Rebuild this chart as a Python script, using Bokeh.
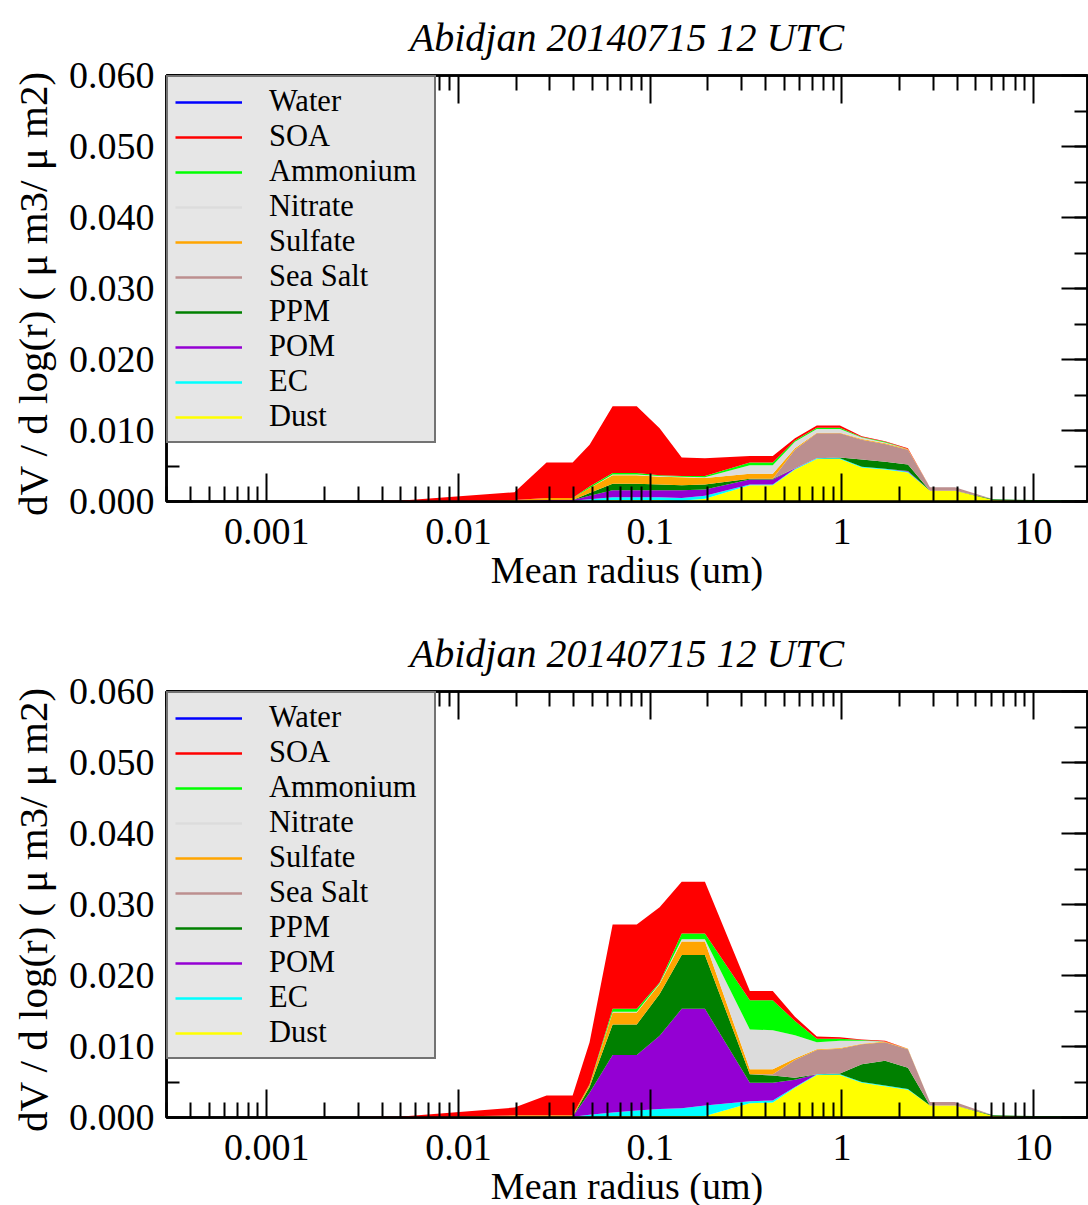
from bokeh.plotting import figure
from bokeh.layouts import column
from bokeh.models import (ColumnDataSource, Range1d, FixedTicker, SingleIntervalTicker,
                          NumeralTickFormatter, CustomJSTickFormatter, LinearAxis, LogAxis,
                          Legend, LegendItem)
from bokeh.embed import file_html
from bokeh.resources import INLINE

TITLE = "Abidjan 20140715 12 UTC"
X_LABEL = "Mean radius (um)"
Y_LABEL = "dV / d log(r) ( μ m3/  μ m2)"

# legend order (top of stack first)
species = ["Water", "SOA", "Ammonium", "Nitrate", "Sulfate", "Sea Salt", "PPM", "POM", "EC", "Dust"]
keys = ["water", "soa", "ammonium", "nitrate", "sulfate", "seasalt", "ppm", "pom", "ec", "dust"]
colors = ["#0000ff", "#ff0000", "#00ff00", "#dcdcdc", "#ffa500", "#bc8f8f", "#008000", "#9400d3", "#00ffff", "#ffff00"]

radius = [0.0003, 0.0049, 0.0196, 0.0288, 0.0394, 0.0483, 0.0637, 0.0851, 0.112, 0.146, 0.193,
          0.331, 0.436, 0.569, 0.740, 0.977, 1.27, 1.68, 2.21, 2.88, 3.89, 6.15, 20.0]

# ---- panel 1 ----
p1_water = [0, 0, 0, 0, 0, 0, 0, 0, 0, 0, 0, 0, 0, 0, 0, 0, 0, 0, 0, 0, 0, 0, 0]
p1_soa = [0, 0.0001, 0.0011, 0.0050, 0.0050, 0.0059, 0.0094, 0.0094, 0.0066, 0.0026, 0.0025,
          0.0009, 0.0009, 0.0003, 0.0003, 0.0003, 0.0001, 0.0001, 0.0001, 0, 0, 0, 0]
p1_ammonium = [0, 0, 0, 0, 0, 0.0002, 0.0002, 0.0002, 0.0001, 0.0001, 0.0002,
               0.0004, 0.0004, 0.0002, 0.0002, 0.0002, 0.0001, 0.0001, 0, 0, 0, 0, 0]
p1_nitrate = [0, 0, 0, 0, 0, 0, 0.0001, 0.0001, 0.0001, 0.0001, 0.0001,
              0.0012, 0.0012, 0.0009, 0.0005, 0.0005, 0.0002, 0.0001, 0, 0, 0, 0, 0]
p1_sulfate = [0, 0, 0.0001, 0.0003, 0.0003, 0.0007, 0.0012, 0.0012, 0.0011, 0.0011, 0.0009,
              0.0007, 0.0007, 0.0002, 0.0001, 0.0001, 0.0001, 0.0001, 0.0001, 0, 0, 0, 0]
p1_seasalt = [0, 0, 0, 0, 0, 0, 0, 0, 0, 0, 0,
              0, 0, 0.0026, 0.0035, 0.0034, 0.0028, 0.0025, 0.0021, 0.0005, 0.0005, 0, 0]
p1_ppm = [0, 0, 0, 0, 0, 0.0004, 0.0009, 0.0009, 0.0008, 0.0007, 0.0007,
          0.0001, 0.0001, 0, 0, 0.0001, 0.0010, 0.0010, 0.0009, 0, 0, 0.0001, 0.0001]
p1_pom = [0, 0, 0, 0.0001, 0.0001, 0.0005, 0.0010, 0.0010, 0.0010, 0.0011, 0.0009,
          0.0007, 0.0007, 0.0001, 0, 0, 0, 0, 0.0001, 0, 0, 0, 0]
p1_ec = [0, 0, 0, 0, 0, 0.0002, 0.0004, 0.0004, 0.0004, 0.0004, 0.0004,
         0.0001, 0.0001, 0.0001, 0.0001, 0.0001, 0.0001, 0.0001, 0.0001, 0, 0, 0, 0]
p1_dust = [0, 0, 0.0001, 0.0001, 0.0001, 0.0001, 0.0002, 0.0002, 0.0002, 0.0001, 0.0004,
           0.0023, 0.0023, 0.0045, 0.0060, 0.0060, 0.0048, 0.0045, 0.0041, 0.0015, 0.0015, 0.0002, 0]

# ---- panel 2 ----
p2_water = [0, 0, 0, 0, 0, 0, 0, 0, 0, 0, 0, 0, 0, 0, 0, 0, 0, 0, 0, 0, 0, 0, 0]
p2_soa = [0, 0.0001, 0.0011, 0.0028, 0.0028, 0.0059, 0.0119, 0.0119, 0.0106, 0.0073, 0.0073,
          0.0013, 0.0013, 0.0006, 0.0003, 0.0002, 0.0001, 0.0001, 0, 0, 0, 0, 0]
p2_ammonium = [0, 0, 0, 0, 0, 0.0001, 0.0004, 0.0004, 0.0001, 0.0008, 0.0008,
               0.0041, 0.0042, 0.0020, 0.0005, 0.0003, 0.0001, 0, 0, 0, 0, 0, 0]
p2_nitrate = [0, 0, 0, 0, 0, 0, 0.0001, 0.0001, 0.0001, 0.0003, 0.0003,
              0.0056, 0.0055, 0.0033, 0.0010, 0.0010, 0.0004, 0, 0, 0, 0, 0, 0]
p2_sulfate = [0, 0, 0.0002, 0.0002, 0.0002, 0.0003, 0.0017, 0.0017, 0.0014, 0.0019, 0.0019,
              0.0007, 0.0007, 0.0002, 0.0001, 0.0001, 0.0001, 0.0001, 0.0001, 0, 0, 0, 0]
p2_seasalt = [0, 0, 0, 0, 0, 0, 0, 0, 0, 0, 0,
              0, 0.0002, 0.0025, 0.0034, 0.0035, 0.0028, 0.0026, 0.0026, 0.0005, 0.0005, 0, 0]
p2_ppm = [0, 0, 0, 0, 0, 0.0008, 0.0043, 0.0043, 0.0059, 0.0076, 0.0076,
          0.0012, 0.0010, 0.0003, 0, 0.0001, 0.0025, 0.0035, 0.0030, 0, 0, 0.0001, 0.0001]
p2_pom = [0, 0, 0, 0, 0, 0.0031, 0.0081, 0.0078, 0.0103, 0.0140, 0.0136,
          0.0026, 0.0025, 0.0010, 0, 0, 0, 0, 0, 0, 0, 0, 0]
p2_ec = [0, 0, 0, 0, 0, 0.0003, 0.0005, 0.0008, 0.0010, 0.0011, 0.0015,
         0.0003, 0.0003, 0.0001, 0.0001, 0.0001, 0.0001, 0.0001, 0.0001, 0, 0, 0, 0]
p2_dust = [0, 0, 0.0001, 0.0001, 0.0001, 0.0001, 0.0002, 0.0002, 0.0002, 0.0002, 0.0002,
           0.0020, 0.0021, 0.0042, 0.0060, 0.0060, 0.0049, 0.0044, 0.0039, 0.0017, 0.0017, 0.0002, 0]

x_major = [0.001, 0.01, 0.1, 1, 10]
x_minor = [0.0003, 0.0004, 0.0005, 0.0006, 0.0007, 0.0008, 0.0009,
           0.002, 0.003, 0.004, 0.005, 0.006, 0.007, 0.008, 0.009,
           0.02, 0.03, 0.04, 0.05, 0.06, 0.07, 0.08, 0.09,
           0.2, 0.3, 0.4, 0.5, 0.6, 0.7, 0.8, 0.9,
           2, 3, 4, 5, 6, 7, 8, 9]

FONT = "Liberation Serif"


def style_axis(ax, show_labels):
    ax.axis_line_color = "black"
    ax.axis_line_width = 2.5
    ax.major_tick_line_color = "black"
    ax.minor_tick_line_color = "black"
    ax.major_tick_line_width = 2
    ax.minor_tick_line_width = 2
    ax.major_tick_out = 0
    ax.minor_tick_out = 0
    ax.major_label_text_font = FONT
    ax.major_label_text_color = "black"
    ax.axis_label_text_font = FONT
    ax.axis_label_text_font_style = "normal"
    ax.axis_label_text_font_size = "38px"
    ax.axis_label_text_color = "black"
    if show_labels:
        ax.major_label_text_font_size = "38px"
    else:
        ax.major_label_text_font_size = "1px"
        ax.major_label_text_alpha = 0
        ax.major_label_standoff = 0


def make_panel(vals, bottom_border):
    data = dict(radius=radius)
    for k, v in zip(keys, vals):
        data[k] = v
    src = ColumnDataSource(data)

    p = figure(frame_width=921, frame_height=426, x_axis_type="log",
               x_range=Range1d(3e-4, 19.1), y_range=Range1d(0, 0.06),
               output_backend="svg", toolbar_location=None,
               min_border_left=166, min_border_right=1, min_border_top=74,
               min_border_bottom=bottom_border, title=TITLE,
               background_fill_color="white", border_fill_color="white")
    p.xgrid.visible = False
    p.ygrid.visible = False
    p.outline_line_color = "black"
    p.outline_line_width = 2.5

    p.title.text_font = FONT
    p.title.text_font_style = "italic"
    p.title.text_font_size = "40px"
    p.title.align = "center"
    p.title.vertical_align = "top"
    p.title.text_color = "black"
    p.title.standoff = 28

    stack_keys = keys[::-1]
    stack_colors = colors[::-1]
    p.varea_stack(stackers=stack_keys, x="radius", color=stack_colors, source=src)

    # bottom x axis
    xa = p.xaxis[0]
    xa.ticker = FixedTicker(ticks=x_major, minor_ticks=x_minor)
    xa.formatter = CustomJSTickFormatter(code="return tick.toString();")
    xa.axis_label = X_LABEL
    style_axis(xa, True)
    xa.major_tick_in = 28
    xa.minor_tick_in = 15
    xa.major_label_standoff = 17
    xa.axis_label_standoff = 2

    # top x axis (ticks only)
    xt = LogAxis(ticker=FixedTicker(ticks=x_major, minor_ticks=x_minor))
    style_axis(xt, False)
    xt.major_tick_in = 28
    xt.minor_tick_in = 15
    p.add_layout(xt, "above")

    # left y axis
    ya = p.yaxis[0]
    ya.ticker = SingleIntervalTicker(interval=0.01, num_minor_ticks=2)
    ya.formatter = NumeralTickFormatter(format="0.000")
    ya.axis_label = Y_LABEL
    style_axis(ya, True)
    ya.axis_label_text_font_size = "41px"
    ya.major_tick_in = 26
    ya.minor_tick_in = 13
    ya.major_label_standoff = 12
    ya.axis_label_standoff = 10

    # right y axis (ticks only)
    yr = LinearAxis(ticker=SingleIntervalTicker(interval=0.01, num_minor_ticks=2))
    style_axis(yr, False)
    yr.major_tick_in = 26
    yr.minor_tick_in = 13
    p.add_layout(yr, "right")

    items = []
    line_src = ColumnDataSource(dict(x=[0.001, 0.001], y=[-1.0, -1.0]))
    for name, col in zip(species, colors):
        r = p.line(x="x", y="y", source=line_src, line_color=col, line_width=2.5)
        items.append(LegendItem(label=name, renderers=[r]))
    legend = Legend(items=items, location="top_left", margin=0, padding=7, spacing=0,
                    glyph_width=67, glyph_height=30, label_height=30, label_width=158,
                    label_standoff=27, label_text_font=FONT, label_text_font_size="30.5px",
                    label_text_color="black",
                    border_line_color="black", border_line_width=2.5,
                    background_fill_color="#e6e6e6", background_fill_alpha=1.0)
    p.add_layout(legend)
    return p


p1 = make_panel([p1_water, p1_soa, p1_ammonium, p1_nitrate, p1_sulfate, p1_seasalt,
                 p1_ppm, p1_pom, p1_ec, p1_dust], 115)
p2 = make_panel([p2_water, p2_soa, p2_ammonium, p2_nitrate, p2_sulfate, p2_seasalt,
                 p2_ppm, p2_pom, p2_ec, p2_dust], 90)

layout = column(p1, p2, spacing=0)
open("out.html", "w").write(file_html(layout, INLINE))
